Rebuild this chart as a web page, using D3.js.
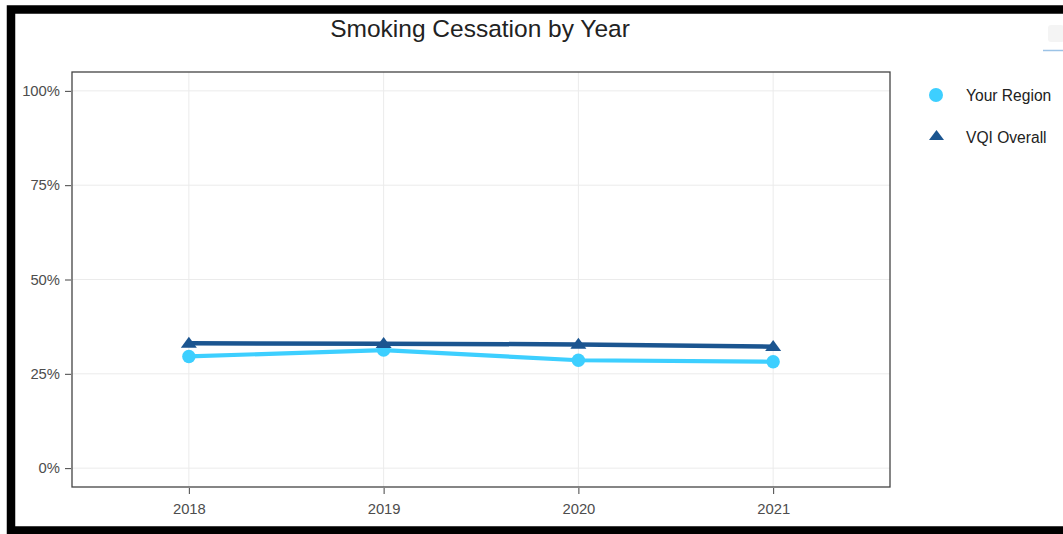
<!DOCTYPE html>
<html>
<head>
<meta charset="utf-8">
<script src="https://cdn.jsdelivr.net/npm/d3@7/dist/d3.min.js"></script>
<style>
  html, body { margin: 0; padding: 0; background: #fff; }
  svg { display: block; font-family: "Liberation Sans", Arial, sans-serif; }
</style>
</head>
<body>
<svg id="chart" width="1063" height="534"></svg>
<script>
// Smoking cessation rates per year
const years = [2018, 2019, 2020, 2021];
const yourRegion = [0.296, 0.313, 0.286, 0.282];
const vqiOverall = [0.331, 0.330, 0.328, 0.322];
const yTicks = [0, 0.25, 0.5, 0.75, 1];
const seriesNames = ["Your Region", "VQI Overall"];
const seriesColors = ["#3dcfff", "#1b5590"];

const svg = d3.select("#chart");
const W = 1063, H = 534;

// outer black frame
svg.append("rect").attr("x", 11).attr("y", 9.5).attr("width", W + 20).attr("height", 521)
  .attr("fill", "none").attr("stroke", "#000").attr("stroke-width", 8.5);

const panel = { left: 72, top: 72, right: 890, bottom: 487 };

const x = d3.scaleLinear().domain([2017.4, 2021.6]).range([panel.left, panel.right]);
const y = d3.scaleLinear().domain([-0.05, 1.05]).range([panel.bottom, panel.top]);

// gridlines
const grid = svg.append("g");
grid.selectAll(".hg").data(yTicks).join("line")
  .attr("x1", panel.left).attr("x2", panel.right)
  .attr("y1", d => y(d)).attr("y2", d => y(d))
  .attr("stroke", "#ebebeb").attr("stroke-width", 1);
grid.selectAll(".vg").data(years).join("line")
  .attr("y1", panel.top).attr("y2", panel.bottom)
  .attr("x1", d => x(d)).attr("x2", d => x(d))
  .attr("stroke", "#ebebeb").attr("stroke-width", 1);

// axes
const yAxis = d3.axisLeft(y).tickValues(yTicks).tickFormat(d3.format(".0%")).tickSize(6).tickPadding(5);
const xAxis = d3.axisBottom(x).tickValues(years).tickFormat(d3.format("d")).tickSize(6).tickPadding(9);

const gy = svg.append("g").attr("transform", `translate(${panel.left - 1},0)`).call(yAxis);
const gx = svg.append("g").attr("transform", `translate(0,${panel.bottom + 1})`).call(xAxis);
[gy, gx].forEach(g => {
  g.select(".domain").remove();
  g.selectAll(".tick line").attr("stroke", "#444");
  g.selectAll(".tick text").attr("fill", "#4d4d4d").style("font-size", "14.8px")
    .style("font-family", "'Liberation Sans', Arial, sans-serif");
});

// panel border
svg.append("rect").attr("x", panel.left).attr("y", panel.top)
  .attr("width", panel.right - panel.left).attr("height", panel.bottom - panel.top)
  .attr("fill", "none").attr("stroke", "#444").attr("stroke-width", 1.3);

// series
const line = d3.line().x((d, i) => x(years[i])).y(d => y(d));
// flat, wide triangle marker
const triPath = (w, h) => `M0,${-h * 0.6}L${w / 2},${h * 0.4}L${-w / 2},${h * 0.4}Z`;

svg.append("path").datum(yourRegion).attr("d", line)
  .attr("fill", "none").attr("stroke", seriesColors[0]).attr("stroke-width", 4.2)
  .attr("stroke-linejoin", "round");
svg.append("g").selectAll("circle").data(yourRegion).join("circle")
  .attr("cx", (d, i) => x(years[i])).attr("cy", d => y(d)).attr("r", 6.7)
  .attr("fill", seriesColors[0]);

svg.append("path").datum(vqiOverall).attr("d", line)
  .attr("fill", "none").attr("stroke", seriesColors[1]).attr("stroke-width", 4.5)
  .attr("stroke-linejoin", "round");
svg.append("g").selectAll("path").data(vqiOverall).join("path")
  .attr("d", triPath(16, 11)).attr("transform", (d, i) => `translate(${x(years[i])},${y(d)})`)
  .attr("fill", seriesColors[1]);

// title
svg.append("text").attr("x", 480).attr("y", 36.5).attr("text-anchor", "middle")
  .attr("fill", "#222").style("font-size", "24.5px").text("Smoking Cessation by Year");

// legend
const lg = svg.append("g");
lg.append("circle").attr("cx", 936).attr("cy", 95).attr("r", 7).attr("fill", seriesColors[0]);
lg.append("path").attr("d", triPath(15, 10))
  .attr("transform", "translate(936.5,136)").attr("fill", seriesColors[1]);
lg.selectAll("text").data(seriesNames).join("text")
  .attr("x", 966).attr("y", (d, i) => 101 + i * 42)
  .attr("fill", "#222").style("font-size", "15.6px").text(d => d);

// toolbar remnant in the corner
svg.append("rect").attr("x", 1048).attr("y", 25).attr("width", 16).attr("height", 17)
  .attr("rx", 3).attr("fill", "#f4f4f4");
svg.append("line").attr("x1", 1043).attr("x2", W).attr("y1", 50.5).attr("y2", 50.5)
  .attr("stroke", "#9cc3e6").attr("stroke-width", 1.5);
</script>
</body>
</html>
